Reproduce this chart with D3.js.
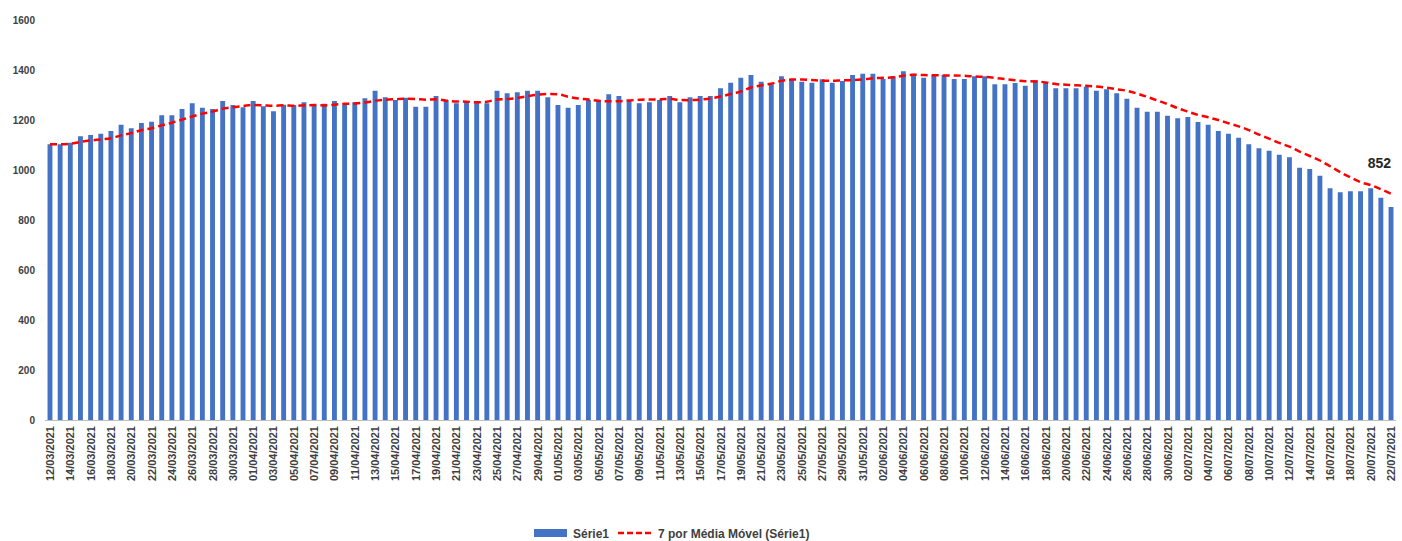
<!DOCTYPE html>
<html><head><meta charset="utf-8">
<script src="https://cdn.jsdelivr.net/npm/d3@7"></script>
<style>body{margin:0;background:#fff;font-family:"Liberation Sans",Arial,sans-serif}</style>
</head><body><div id="chart"></div>
<script>
// daily values 12/03/2021 .. 22/07/2021
var values = [1103,1103,1109,1135,1140,1145,1156,1181,1167,1188,1193,1219,1219,1244,1267,1249,1244,1276,1260,1251,
  1276,1255,1235,1261,1260,1271,1260,1265,1276,1260,1271,1287,1317,1291,1280,1289,1253,1253,1296,1280,
  1267,1275,1273,1267,1317,1307,1311,1317,1317,1291,1260,1249,1260,1280,1280,1303,1296,1280,1267,1271,
  1280,1296,1271,1291,1296,1296,1327,1349,1369,1380,1353,1343,1375,1364,1353,1349,1363,1349,1356,1380,
  1385,1385,1364,1375,1395,1385,1369,1380,1380,1364,1364,1375,1375,1343,1343,1348,1337,1359,1348,1327,
  1327,1327,1333,1317,1323,1307,1285,1249,1233,1233,1217,1207,1212,1192,1181,1156,1145,1129,1103,1087,
  1077,1061,1051,1009,1004,977,927,911,915,915,927,889,852];
var startDate = new Date(2021, 2, 12);
var dates = values.map(function(v, i) {
  var d = new Date(startDate); d.setDate(d.getDate() + i); return d;
});
var fmt = d3.timeFormat("%d/%m/%Y");
var labels = dates.map(fmt);
var yTicks = [0,200,400,600,800,1000,1200,1400,1600];
var maWindow = 7;

// 7 period moving average
var ma = values.map(function(v, i) {
  var s = values.slice(Math.max(0, i - maWindow + 1), i + 1);
  return d3.mean(s);
});

var W = 1402, H = 541;
var svg = d3.select("#chart").append("svg").attr("width", W).attr("height", H);

var x = d3.scaleBand().domain(labels).range([45, 1396]).paddingInner(0.52).paddingOuter(0.25);
var y = d3.scaleLinear().domain([0, 1600]).range([420, 20]);

// y axis labels
svg.append("g").selectAll("text").data(yTicks).enter().append("text")
  .attr("x", 35).attr("y", function(d){ return y(d) + 4; })
  .attr("text-anchor", "end").attr("font-size", 10).attr("font-weight", "bold")
  .attr("fill", "#404040").text(function(d){ return d; });

// bars
svg.append("g").selectAll("rect").data(values).enter().append("rect")
  .attr("x", function(d, i){ return x(labels[i]); })
  .attr("width", x.bandwidth())
  .attr("y", function(d){ return y(d); })
  .attr("height", function(d){ return y(0) - y(d); })
  .attr("fill", "#4472c4");

// x axis line
svg.append("line").attr("x1", 45).attr("x2", 1396).attr("y1", y(0)+0.5).attr("y2", y(0)+0.5)
  .attr("stroke", "#bfbfbf");

// x labels, every second date
svg.append("g").selectAll("text").data(labels.filter(function(d, i){ return i % 2 == 0; }))
  .enter().append("text")
  .attr("transform", function(d){ return "translate(" + (x(d) + x.bandwidth()/2 + 4) + ",426)rotate(-90)"; })
  .attr("text-anchor", "end").attr("font-size", 11).attr("font-weight", "bold")
  .attr("fill", "#404040").text(function(d){ return d; });

// moving average line
var line = d3.line()
  .x(function(d, i){ return x(labels[i]) + x.bandwidth()/2; })
  .y(function(d){ return y(d); })
  .curve(d3.curveMonotoneX);
svg.append("path").datum(ma).attr("d", line).attr("fill", "none")
  .attr("stroke", "#ff0000").attr("stroke-width", 2.5).attr("stroke-dasharray", "7,4");

// last value label
var last = labels.length - 1;
svg.append("text").attr("x", x(labels[last]) + x.bandwidth()/2).attr("y", 168)
  .attr("text-anchor", "end").attr("font-size", 14).attr("font-weight", "bold")
  .attr("fill", "#262626").text(values[last]);

// legend
var lg = svg.append("g").attr("font-size", 12).attr("font-weight", "bold").attr("fill", "#404040");
lg.append("rect").attr("x", 534).attr("y", 529).attr("width", 33).attr("height", 8).attr("fill", "#4472c4");
lg.append("text").attr("x", 573).attr("y", 538).text("Série1");
lg.append("line").attr("x1", 618).attr("x2", 652).attr("y1", 533).attr("y2", 533)
  .attr("stroke", "#ff0000").attr("stroke-width", 2.5).attr("stroke-dasharray", "6,3");
lg.append("text").attr("x", 658).attr("y", 538).text("7 por Média Móvel (Série1)");
</script></body></html>
